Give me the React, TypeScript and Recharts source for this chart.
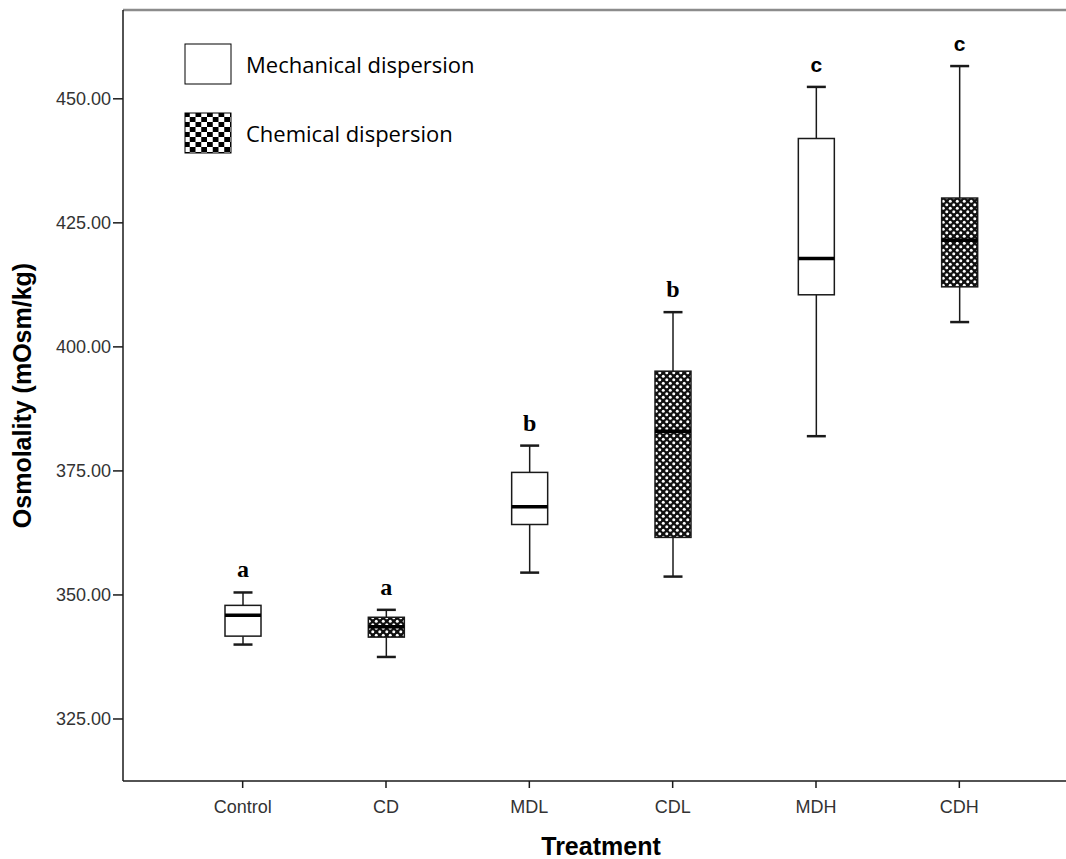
import React from 'react';
import { ComposedChart, Bar, XAxis, YAxis, ReferenceLine } from 'recharts';

// groups and their dispersion method
const categories = ['Control', 'CD', 'MDL', 'CDL', 'MDH', 'CDH'];
const dispersion = ['mechanical', 'chemical', 'mechanical', 'chemical', 'mechanical', 'chemical'];

// box plot summary per group (mOsm/kg)
const whiskerLow = [340.0, 337.5, 354.5, 353.7, 382.0, 405.0];
const quartile1 = [341.7, 341.5, 364.2, 361.6, 410.5, 412.1];
const medians = [345.9, 343.6, 367.8, 383.0, 417.8, 421.5];
const quartile3 = [347.9, 345.5, 374.7, 395.1, 442.0, 430.0];
const whiskerHigh = [350.5, 347.0, 380.1, 407.0, 452.4, 456.6];
const groupLetters = ['a', 'a', 'b', 'b', 'c', 'c'];

const yTicks = [325, 350, 375, 400, 425, 450];
const yDomain = [312.5, 467.9];

const legendItems = [
    { key: 'mechanical', label: 'Mechanical dispersion' },
    { key: 'chemical', label: 'Chemical dispersion' },
];

const data = categories.map((name, i) => ({
    name,
    kind: dispersion[i],
    low: whiskerLow[i],
    q1: quartile1[i],
    median: medians[i],
    q3: quartile3[i],
    high: whiskerHigh[i],
    letter: groupLetters[i],
}));

const INK = '#1a1a1a';

function BoxShape(props: any) {
    const { x, y, width, height, payload } = props;
    if (!payload) return null;
    const top = Math.min(y, y + height);
    const h = Math.abs(height);
    const span = payload.high - payload.low;
    const py = (v: number) => top + ((payload.high - v) / span) * h;
    const cx = x + width / 2;
    const capHalf = 9.5;
    const fill = payload.kind === 'chemical' ? 'url(#netFill)' : '#fff';
    const letterFont = payload.letter === 'c' ? '"Liberation Sans", Arial, sans-serif' : '"Liberation Serif", "Times New Roman", serif';

    return (
        <g>
            {/* whiskers */}
            <line x1={cx} x2={cx} y1={py(payload.high)} y2={py(payload.q3)} stroke={INK} strokeWidth={1.5} />
            <line x1={cx} x2={cx} y1={py(payload.q1)} y2={py(payload.low)} stroke={INK} strokeWidth={1.5} />
            <line x1={cx - capHalf} x2={cx + capHalf} y1={py(payload.high)} y2={py(payload.high)} stroke={INK} strokeWidth={2.5} />
            <line x1={cx - capHalf} x2={cx + capHalf} y1={py(payload.low)} y2={py(payload.low)} stroke={INK} strokeWidth={2.5} />
            {/* box */}
            <rect
                x={x}
                y={py(payload.q3)}
                width={width}
                height={py(payload.q1) - py(payload.q3)}
                fill={fill}
                stroke={INK}
                strokeWidth={1.5}
            />
            <line x1={x} x2={x + width} y1={py(payload.median)} y2={py(payload.median)} stroke="#000" strokeWidth={3.5} />
            <text
                x={cx}
                y={py(payload.high) - 15}
                textAnchor="middle"
                fontFamily={letterFont}
                fontWeight="bold"
                fontSize={payload.letter === 'c' ? 21 : 24}
                fill="#000"
            >
                {payload.letter}
            </text>
        </g>
    );
}

function LegendSwatch({ kind }: { kind: string }) {
    return (
        <svg width={48} height={42} style={{ display: 'block' }}>
            <defs>
                <pattern id="checkFill" width={11.5} height={10} patternUnits="userSpaceOnUse">
                    <rect width={11.5} height={10} fill="#fff" />
                    <rect width={5.75} height={5} fill="#000" />
                    <rect x={5.75} y={5} width={5.75} height={5} fill="#000" />
                </pattern>
            </defs>
            <rect
                x={1}
                y={1}
                width={46}
                height={40}
                fill={kind === 'chemical' ? 'url(#checkFill)' : '#fff'}
                stroke="#000"
                strokeWidth={1}
            />
        </svg>
    );
}

export default function App() {
    return (
        <div
            style={{
                position: 'fixed',
                left: 0,
                top: 0,
                width: 1066,
                height: 859,
                overflow: 'hidden',
                background: '#fff',
            }}
        >
            <ComposedChart
                width={1090}
                height={859}
                data={data}
                margin={{ top: 10, right: 11, bottom: 0, left: 0 }}
            >
                <defs>
                    <pattern id="netFill" width={7} height={7} patternUnits="userSpaceOnUse">
                        <rect width={7} height={7} fill="#111" />
                        <circle cx={1.75} cy={1.75} r={1.5} fill="#fff" />
                        <circle cx={5.25} cy={5.25} r={1.5} fill="#fff" />
                    </pattern>
                </defs>
                <ReferenceLine y={yDomain[1]} stroke="#8c8c8c" strokeWidth={2.5} />
                <XAxis
                    dataKey="name"
                    padding={{ left: 48, right: 48 }}
                    height={78}
                    axisLine={{ stroke: INK, strokeWidth: 1.5 }}
                    tickLine={{ stroke: INK, strokeWidth: 1.5 }}
                    tickSize={7}
                    tickMargin={12}
                    tick={{ fill: '#333', fontSize: 18, fontFamily: '"Liberation Sans", Arial, sans-serif' }}
                    label={{
                        content: (p: any) => {
                            const vb = p.viewBox || {};
                            return (
                                <text
                                    x={vb.x + vb.width / 2}
                                    y={855}
                                    textAnchor="middle"
                                    fontFamily='"Liberation Sans", Arial, sans-serif'
                                    fontWeight="bold"
                                    fontSize={25}
                                    fill="#000"
                                >
                                    Treatment
                                </text>
                            );
                        },
                    }}
                />
                <YAxis
                    type="number"
                    domain={yDomain}
                    ticks={yTicks}
                    allowDataOverflow
                    width={123}
                    axisLine={{ stroke: INK, strokeWidth: 1.5 }}
                    tickLine={{ stroke: INK, strokeWidth: 1.5 }}
                    tickSize={10}
                    tickMargin={2}
                    tickFormatter={(v: number) => v.toFixed(2)}
                    tick={{ fill: '#333', fontSize: 18, fontFamily: '"Liberation Sans", Arial, sans-serif' }}
                    label={{
                        content: (p: any) => {
                            const vb = p.viewBox || {};
                            const cy = vb.y + vb.height / 2;
                            return (
                                <text
                                    x={0}
                                    y={0}
                                    transform={`translate(31, ${cy}) rotate(-90)`}
                                    textAnchor="middle"
                                    fontFamily='"Liberation Sans", Arial, sans-serif'
                                    fontWeight="bold"
                                    fontSize={25}
                                    fill="#000"
                                >
                                    Osmolality (mOsm/kg)
                                </text>
                            );
                        },
                    }}
                />
                <Bar
                    dataKey={(d: any) => [d.low, d.high]}
                    barSize={36}
                    shape={BoxShape}
                    isAnimationActive={false}
                />
            </ComposedChart>

            <div style={{ position: 'absolute', left: 184, top: 43 }}>
                {legendItems.map((item, i) => (
                    <div
                        key={item.key}
                        style={{ display: 'flex', alignItems: 'center', height: 42, marginBottom: i === 0 ? 27 : 0 }}
                    >
                        <LegendSwatch kind={item.key} />
                        <span
                            style={{
                                marginLeft: 14,
                                fontFamily: '"Open Sans", sans-serif',
                                fontSize: 22,
                                color: '#000',
                                lineHeight: '42px',
                            }}
                        >
                            {item.label}
                        </span>
                    </div>
                ))}
            </div>
        </div>
    );
}
